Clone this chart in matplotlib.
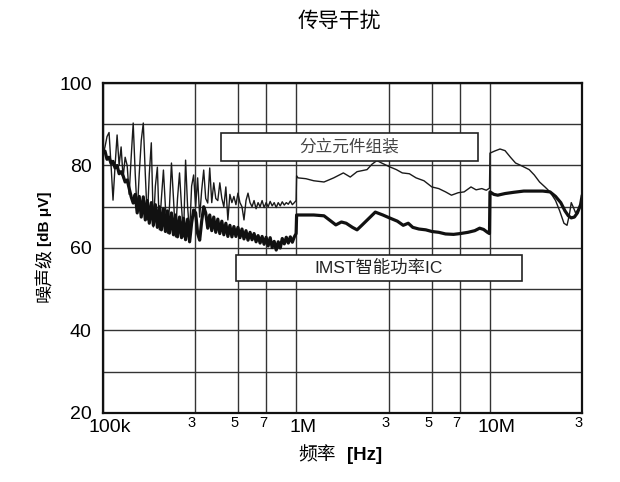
import matplotlib
matplotlib.use('Agg')
import matplotlib.pyplot as plt
import matplotlib.transforms as mtransforms
from matplotlib.patches import Rectangle

plt.rcParams['font.family'] = ['Liberation Sans', 'Noto Sans CJK SC', 'DejaVu Sans']

# discrete-component assembly (thin line): frequency in kHz, level in dB uV
thin_khz = [100, 102.4, 104.9, 107.5, 110.1, 112.7, 115.5, 118.3, 121.2, 124.1,
            127.1, 130.2, 133.4, 136.6, 139.9, 143.3, 146.8, 150.3, 154.0, 157.7,
            161.6, 165.5, 169.5, 173.6, 177.8, 182.2, 186.6, 191.1, 195.7, 200.5,
            205.4, 210.3, 215.4, 220.7, 226.0, 231.5, 237.1, 242.9, 248.8, 254.8,
            261.0, 267.4, 273.9, 280.5, 287.3, 294.3, 301.4, 308.7, 316.2, 323.9,
            331.8, 339.8, 348.1, 356.5, 365.2, 374.0, 383.1, 392.4, 401.9, 411.7,
            421.7, 431.9, 442.4, 453.2, 464.2, 475.4, 487.0, 498.8, 510.9, 523.3,
            536.0, 549.0, 562.3, 576.0, 590.0, 604.3, 619.0, 634.0, 649.4, 665.1,
            681.3, 697.8, 714.8, 732.1, 749.9, 768.1, 786.7, 805.8, 825.4, 845.4,
            866.0, 887.0, 908.5, 930.6, 953.2, 976.3, 997,
            1003, 1020, 1120, 1230, 1390, 1560, 1750, 1900, 2060, 2320,
            2460, 2610, 2760, 3030, 3290, 3530, 3840, 4160, 4570, 5020,
            5450, 5910, 6340, 6870, 7370, 8000, 8500, 9100, 9600, 9970,
            10030, 10600, 11300, 12000, 12800, 13600, 14500, 16000, 17000, 18100,
            19300, 20500, 21900, 23000, 24200, 25100, 25800, 26400, 27100, 27800,
            28800, 29900, 30000]
thin_db = [82.5, 84.5, 87, 88, 80, 71.6, 80, 87.4, 80, 84.5,
           77, 82, 80, 73, 82, 90.3, 78, 68.5, 78, 86,
           90.3, 78, 66.8, 78, 85.5, 65.1, 75, 79.6, 64.4, 72,
           78.9, 70, 63.6, 70, 80.6, 72, 62.7, 72, 78.2, 70,
           62.7, 81.3, 70, 63.6, 75, 77.7, 70, 77, 67.5, 74,
           78.9, 72, 70.9, 79.4, 71, 75.8, 72, 71.5, 75.8, 72,
           70, 74.8, 66.8, 73, 71, 72.5, 70.5, 73.3, 71, 70,
           66.8, 71.5, 73.3, 71, 70, 71.5, 69.5, 71, 70, 71.5,
           69.8, 71, 70, 71.3, 70.2, 71, 69.8, 71, 70.2, 71.2,
           70.4, 71, 70.6, 71.4, 70.5, 71, 71.5,
           77.5, 77, 76.8, 76.3, 76, 77, 78.2, 77.2, 78.5, 79,
           80.3, 81.2, 80.6, 79.7, 79, 78.2, 78, 77, 76.3, 74.8,
           74.4, 73.6, 72.8, 73.4, 73.6, 74.8, 74.1, 74.4, 74, 74.5,
           83, 83.5, 84, 83.6, 82, 80.6, 80, 79, 77.7, 76,
           74.8, 73.6, 71.5, 69, 66, 65.5, 68, 71, 69.8, 68.5,
           69.5, 71, 72.5]

# IMST intelligent power IC (thick line)
thick_khz = [100, 102.4, 104.9, 107.5, 110.1, 112.7, 115.5, 118.3, 121.2, 124.1,
             127.1, 130.2, 133.4, 136.6, 139.9, 143.3, 146.8, 150.3, 154.0, 157.7,
             161.6, 165.5, 169.5, 173.6, 177.8, 182.2, 186.6, 191.1, 195.7, 200.5,
             205.4, 210.3, 215.4, 220.7, 226.0, 231.5, 237.1, 242.9, 248.8, 254.8,
             261.0, 267.4, 273.9, 280.5, 287.3, 294.3, 301.4, 308.7, 316.2, 323.9,
             331.8, 339.8, 348.1, 356.5, 365.2, 374.0, 383.1, 392.4, 401.9, 411.7,
             421.7, 431.9, 442.4, 453.2, 464.2, 475.4, 487.0, 498.8, 510.9, 523.3,
             536.0, 549.0, 562.3, 576.0, 590.0, 604.3, 619.0, 634.0, 649.4, 665.1,
             681.3, 697.8, 714.8, 732.1, 749.9, 768.1, 786.7, 805.8, 825.4, 845.4,
             866.0, 887.0, 908.5, 930.6, 953.2, 976.3, 997,
             1003, 1020, 1120, 1230, 1390, 1510, 1600, 1710, 1810, 1950,
             2060, 2180, 2350, 2560, 2800, 3030, 3330, 3570, 3790, 4000,
             4300, 4670, 5020, 5450, 5910, 6500, 7040, 7720, 8370, 8870,
             9290, 9730, 9970,
             10030, 10500, 11000, 12000, 13300, 15000, 17000, 18800, 20500, 21900,
             23300, 24500, 25500, 26400, 27400, 28400, 29500, 30000]
thick_db = [83.5, 83.5, 81.5, 82, 80.5, 81, 79.4, 80, 78, 78.5,
            77.5, 76, 76.5, 74.5, 72.4, 70.9, 73, 68.5, 72.5, 67.5,
            72.4, 66.8, 71.5, 66, 71, 65.5, 70.5, 65, 70, 64.4,
            69.5, 64, 69, 63.6, 68.5, 63.2, 68, 62.7, 67.5, 62.5,
            67.2, 62, 67, 61.5, 66, 69.2, 68.5, 63.5, 61.9, 66.5,
            70, 68.5, 64.8, 68, 64.2, 67.5, 63.8, 67, 63.5, 66.5,
            63.2, 66, 62.8, 65.5, 62.7, 65.2, 62.8, 65, 62.5, 64.6,
            62.2, 64.2, 61.9, 63.8, 62, 63.5, 61.5, 63, 61.2, 62.8,
            60.9, 62.6, 60.5, 62.5, 60.1, 61.6, 59.5, 61.5, 60, 62.3,
            61, 62.6, 61.2, 62.7, 61.4, 62.7, 63.5,
            68, 68, 68, 68, 67.8, 66.5, 65.6, 66.3, 66, 65,
            64.4, 65.5, 67, 68.7, 68, 67.3, 66.5, 65.5, 66, 65,
            64.6, 64.4, 64, 63.8, 63.4, 63.3, 63.5, 63.8, 64.2, 64.8,
            64.5, 63.8, 63.5,
            73.6, 73, 72.8, 73.2, 73.5, 73.8, 73.8, 73.8, 73.6, 72.5,
            71, 69, 67.8, 67.3, 67.5, 68.5, 70.5, 72.5]

major_ticks = [1e5, 1e6, 1e7]
major_labels = ['100k', '1M', '10M']
minor_ticks = [3e5, 5e5, 7e5, 3e6, 5e6, 7e6, 3e7]
minor_labels = ['3', '5', '7', '3', '5', '7', '3']
y_ticks = [20, 40, 60, 80, 100]
y_grid = [30, 50, 70, 90]

fig = plt.figure(figsize=(6.2, 4.82), dpi=100)
ax = fig.add_axes([0.1661, 0.1432, 0.7726, 0.6846])

ax.plot([f * 1e3 for f in thin_khz], thin_db, color='#1a1a1a', lw=1.0)
ax.plot([f * 1e3 for f in thick_khz], thick_db, color='#111111', lw=2.3)

ax.set_xscale('log')
ax.set_xlim(1e5, 3e7)
ax.set_ylim(20, 100)

ax.set_xticks(major_ticks)
ax.set_xticklabels(major_labels, fontsize=14)
ax.set_xticks(minor_ticks, minor=True)
ax.set_xticklabels(minor_labels, minor=True, fontsize=10.5)
ax.set_yticks(y_ticks)
ax.set_yticklabels([str(v) for v in y_ticks], fontsize=14)
ax.set_yticks(y_grid, minor=True)
ax.tick_params(axis='both', which='both', length=0)
ax.tick_params(axis='x', which='major', pad=4.5)
ax.tick_params(axis='x', which='minor', pad=2.5)
ax.tick_params(axis='y', which='major', pad=8)

ax.grid(True, which='both', color='#333333', lw=1.0)
for spine in ax.spines.values():
    spine.set_linewidth(1.6)
    spine.set_color('#111111')

big_shift = mtransforms.ScaledTranslation(5 / 72, 0, fig.dpi_scale_trans)
small_shift = mtransforms.ScaledTranslation(-2.5 / 72, 0, fig.dpi_scale_trans)
for lbl in ax.xaxis.get_majorticklabels():
    lbl.set_transform(lbl.get_transform() + big_shift)
for lbl in ax.xaxis.get_minorticklabels():
    lbl.set_transform(lbl.get_transform() + small_shift)

# label boxes
ax.add_patch(Rectangle((4.06e5, 81.1), 8.69e6 - 4.06e5, 6.8,
                       facecolor='white', edgecolor='#222222', lw=1.2, zorder=5))
ax.text(1.88e6, 84.5, '分立元件组装', ha='center', va='center', fontsize=12,
        color='#444444', zorder=6)
ax.add_patch(Rectangle((4.87e5, 52.0), 1.46e7 - 4.87e5, 6.3,
                       facecolor='white', edgecolor='#222222', lw=1.2, zorder=5))
ax.text(2.67e6, 55.2, 'IMST智能功率IC', ha='center', va='center', fontsize=12.5,
        color='#222222', zorder=6)

fig.text(0.548, 0.956, '传导干扰', ha='center', va='center', fontsize=15,
         family=['Noto Sans CJK SC'])
fig.text(0.542, 0.056, '频率', ha='right', va='center', fontsize=13.5,
         family=['Noto Sans CJK SC'])
fig.text(0.559, 0.056, '[Hz]', ha='left', va='center', fontsize=13.5,
         fontweight='bold')
# y label in two pieces: regular CJK text, bold unit
fig.text(0.0726, 0.486, '噪声级', ha='center', va='top', fontsize=13,
         rotation=90, family=['Noto Sans CJK SC'])
fig.text(0.0726, 0.489, '[dB μV]', ha='center', va='bottom', fontsize=11,
         rotation=90, fontweight='bold')

fig.savefig('out.png', dpi=100)
